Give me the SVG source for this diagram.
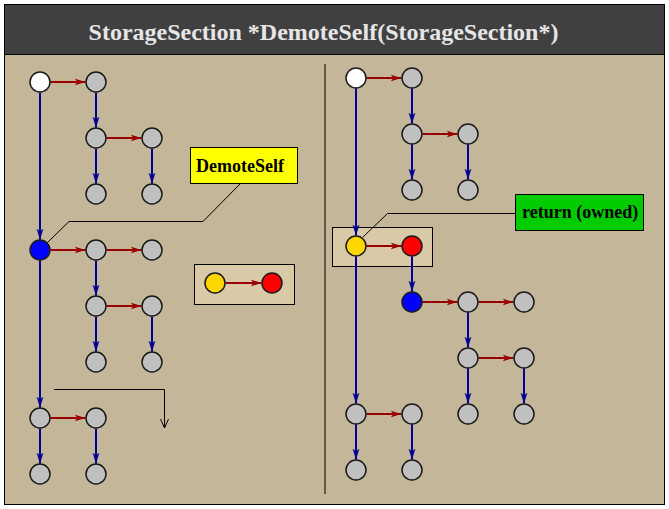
<svg xmlns="http://www.w3.org/2000/svg" width="669" height="509" viewBox="0 0 669 509">
<style>
.n{stroke:#1a1a1a;stroke-width:1.5}
.g{fill:#c0c0c0}.w{fill:#ffffff}.b{fill:#0000ff}.y{fill:#ffd700}.r{fill:#ff0000}
.rl{stroke:#9a0000;stroke-width:2;fill:none;marker-end:url(#ra)}
.bl{stroke:#000099;stroke-width:2;fill:none;marker-end:url(#ba)}
.lead{stroke:#000;stroke-width:1;fill:none}
.lbl{font-family:"Liberation Serif","Times New Roman",serif;font-weight:bold;font-size:18px;fill:#000}
</style>
<defs>
<marker id="ra" markerUnits="userSpaceOnUse" markerWidth="12" markerHeight="8" refX="11" refY="4" orient="auto"><path d="M0,0.5 L11,4 L0,7.5 L3,4 z" fill="#9a0000"/></marker>
<marker id="ba" markerUnits="userSpaceOnUse" markerWidth="12" markerHeight="8" refX="11" refY="4" orient="auto"><path d="M0,0.5 L11,4 L0,7.5 L3,4 z" fill="#000099"/></marker>
<marker id="oa" markerUnits="userSpaceOnUse" markerWidth="10" markerHeight="10" refX="9" refY="4" orient="auto"><path d="M0,0 L9,4 L0,8" fill="none" stroke="#000" stroke-width="1"/></marker>
</defs>
<rect x="4.5" y="4.5" width="660" height="500" fill="#c4b698" stroke="#000" stroke-width="1"/>
<rect x="4.5" y="4.5" width="660" height="50" fill="#404040" stroke="#000" stroke-width="1"/>
<text x="323.5" y="40" text-anchor="middle" font-family="'Liberation Serif','Times New Roman',serif" font-weight="bold" font-size="24" fill="#e6e6e6">StorageSection *DemoteSelf(StorageSection*)</text>
<line x1="325" y1="64" x2="325" y2="494" stroke="#000" stroke-width="1"/>
<g id="legend-box"><rect x="194.5" y="264.5" width="100" height="40" fill="#dac9a6" stroke="#000" stroke-width="1"/></g>
<g id="highlight-box"><rect x="332.5" y="227.5" width="100" height="39" fill="#dac9a6" stroke="#000" stroke-width="1"/></g>
<g id="connectors">
<line class="rl" x1="50.5" y1="82" x2="85.5" y2="82"/>
<line class="rl" x1="106.5" y1="138" x2="141.5" y2="138"/>
<line class="rl" x1="50.5" y1="250" x2="85.5" y2="250"/>
<line class="rl" x1="106.5" y1="250" x2="141.5" y2="250"/>
<line class="rl" x1="106.5" y1="306" x2="141.5" y2="306"/>
<line class="rl" x1="50.5" y1="418" x2="85.5" y2="418"/>
<line class="rl" x1="225.5" y1="283" x2="261.5" y2="283"/>
<line class="bl" x1="96" y1="92.5" x2="96" y2="127.5"/>
<line class="bl" x1="96" y1="148.5" x2="96" y2="183.5"/>
<line class="bl" x1="152" y1="148.5" x2="152" y2="183.5"/>
<line class="bl" x1="40" y1="92.5" x2="40" y2="239.5"/>
<line class="bl" x1="96" y1="260.5" x2="96" y2="295.5"/>
<line class="bl" x1="96" y1="316.5" x2="96" y2="351.5"/>
<line class="bl" x1="152" y1="316.5" x2="152" y2="351.5"/>
<line class="bl" x1="40" y1="260.5" x2="40" y2="407.5"/>
<line class="bl" x1="40" y1="428.5" x2="40" y2="463.5"/>
<line class="bl" x1="96" y1="428.5" x2="96" y2="463.5"/>
<line class="rl" x1="366.5" y1="78" x2="401.5" y2="78"/>
<line class="rl" x1="422.5" y1="134" x2="457.5" y2="134"/>
<line class="rl" x1="366.5" y1="246" x2="401.5" y2="246"/>
<line class="rl" x1="422.5" y1="302" x2="457.5" y2="302"/>
<line class="rl" x1="478.5" y1="302" x2="513.5" y2="302"/>
<line class="rl" x1="478.5" y1="358" x2="513.5" y2="358"/>
<line class="rl" x1="366.5" y1="414" x2="401.5" y2="414"/>
<line class="bl" x1="412" y1="88.5" x2="412" y2="123.5"/>
<line class="bl" x1="412" y1="144.5" x2="412" y2="179.5"/>
<line class="bl" x1="468" y1="144.5" x2="468" y2="179.5"/>
<line class="bl" x1="356" y1="88.5" x2="356" y2="235.5"/>
<line class="bl" x1="412" y1="256.5" x2="412" y2="291.5"/>
<line class="bl" x1="468" y1="312.5" x2="468" y2="347.5"/>
<line class="bl" x1="468" y1="368.5" x2="468" y2="403.5"/>
<line class="bl" x1="524" y1="368.5" x2="524" y2="403.5"/>
<line class="bl" x1="356" y1="256.5" x2="356" y2="403.5"/>
<line class="bl" x1="356" y1="424.5" x2="356" y2="459.5"/>
<line class="bl" x1="412" y1="424.5" x2="412" y2="459.5"/>
<polyline class="lead" points="54,389.5 164.5,389.5 164.5,428" marker-end="url(#oa)"/>
<polyline class="lead" points="241,183 203,221.5 69,221.5 47,243"/>
<polyline class="lead" points="515,213.5 387.5,213.5 363,237"/>
</g>
<g id="nodes-left">
<circle id="L1" class="n w" cx="40" cy="82" r="10"/>
<circle id="L2" class="n g" cx="96" cy="82" r="10"/>
<circle id="L3" class="n g" cx="96" cy="138" r="10"/>
<circle id="L4" class="n g" cx="152" cy="138" r="10"/>
<circle id="L5" class="n g" cx="96" cy="194" r="10"/>
<circle id="L6" class="n g" cx="152" cy="194" r="10"/>
<circle id="L7" class="n b" cx="40" cy="250" r="10"/>
<circle id="L8" class="n g" cx="96" cy="250" r="10"/>
<circle id="L9" class="n g" cx="152" cy="250" r="10"/>
<circle id="L10" class="n g" cx="96" cy="306" r="10"/>
<circle id="L11" class="n g" cx="152" cy="306" r="10"/>
<circle id="L12" class="n g" cx="96" cy="362" r="10"/>
<circle id="L13" class="n g" cx="152" cy="362" r="10"/>
<circle id="L14" class="n g" cx="40" cy="418" r="10"/>
<circle id="L15" class="n g" cx="96" cy="418" r="10"/>
<circle id="L16" class="n g" cx="40" cy="474" r="10"/>
<circle id="L17" class="n g" cx="96" cy="474" r="10"/>
<circle id="LY" class="n y" cx="215" cy="283" r="10"/>
<circle id="LR" class="n r" cx="272" cy="283" r="10"/>
</g>
<g id="nodes-right">
<circle id="R1" class="n w" cx="356" cy="78" r="10"/>
<circle id="R2" class="n g" cx="412" cy="78" r="10"/>
<circle id="R3" class="n g" cx="412" cy="134" r="10"/>
<circle id="R4" class="n g" cx="468" cy="134" r="10"/>
<circle id="R5" class="n g" cx="412" cy="190" r="10"/>
<circle id="R6" class="n g" cx="468" cy="190" r="10"/>
<circle id="RY" class="n y" cx="356" cy="246" r="10"/>
<circle id="RR" class="n r" cx="412" cy="246" r="10"/>
<circle id="R7" class="n b" cx="412" cy="302" r="10"/>
<circle id="R8" class="n g" cx="468" cy="302" r="10"/>
<circle id="R9" class="n g" cx="524" cy="302" r="10"/>
<circle id="R10" class="n g" cx="468" cy="358" r="10"/>
<circle id="R11" class="n g" cx="524" cy="358" r="10"/>
<circle id="R12" class="n g" cx="468" cy="414" r="10"/>
<circle id="R13" class="n g" cx="524" cy="414" r="10"/>
<circle id="R14" class="n g" cx="356" cy="414" r="10"/>
<circle id="R15" class="n g" cx="412" cy="414" r="10"/>
<circle id="R16" class="n g" cx="356" cy="470" r="10"/>
<circle id="R17" class="n g" cx="412" cy="470" r="10"/>
</g>
<g id="label-demoteself">
<rect x="190.5" y="147.5" width="107" height="36" fill="#ffff00" stroke="#000" stroke-width="1"/>
<text class="lbl" x="196" y="172">DemoteSelf</text>
</g>
<g id="label-return">
<rect x="515.5" y="194.5" width="128" height="36" fill="#00cc00" stroke="#000" stroke-width="1"/>
<text class="lbl" x="522" y="218">return (owned)</text>
</g>
</svg>
